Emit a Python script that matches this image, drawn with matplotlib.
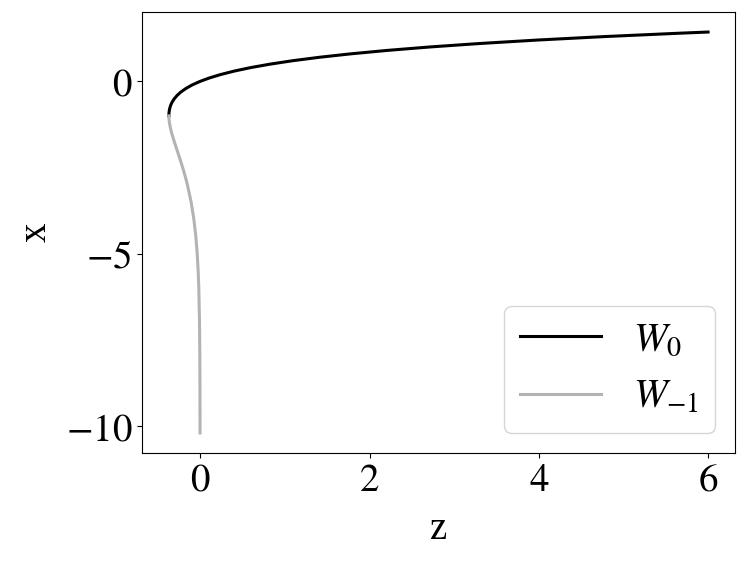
import matplotlib
matplotlib.use("Agg")
import matplotlib.pyplot as plt

# principal branch W0: x values and z = x*e^x
x_w0 = [-1.0, -0.975, -0.95, -0.9, -0.85, -0.8, -0.75, -0.7, -0.65, -0.6, -0.5, -0.4,
        -0.3, -0.2, -0.1, 0.0, 0.1, 0.2, 0.3, 0.4, 0.5, 0.6, 0.7, 0.8, 0.9, 1.0,
        1.1, 1.2, 1.3, 1.4, 1.432]
z_w0 = [-0.3679, -0.3678, -0.3674, -0.3659, -0.3633, -0.3595, -0.3543, -0.3476, -0.3393,
        -0.3293, -0.3033, -0.2681, -0.2222, -0.1637, -0.0905, 0.0, 0.1105, 0.2443,
        0.4050, 0.5967, 0.8244, 1.0933, 1.4096, 1.7804, 2.2136, 2.7183, 3.3046,
        3.9841, 4.7701, 5.6773, 5.9959]

# lower branch W_-1
x_wm1 = [-1.0, -1.05, -1.1, -1.2, -1.3, -1.4, -1.5, -1.75, -2.0, -2.25, -2.5, -2.75,
         -3.0, -3.5, -4.0, -4.5, -5.0, -5.5, -6.0, -7.0, -8.0, -9.0, -10.2]
z_wm1 = [-0.3679, -0.3674, -0.3662, -0.3614, -0.3543, -0.3452, -0.3347, -0.3041,
         -0.2707, -0.2372, -0.2052, -0.1758, -0.1494, -0.1057, -0.0733, -0.0500,
         -0.0337, -0.0225, -0.0149, -0.0064, -0.0027, -0.0011, -0.0004]

xticks = [0, 2, 4, 6]
yticks = [0, -5, -10]

plt.rcParams['font.family'] = ['Liberation Serif', 'DejaVu Serif']
plt.rcParams['mathtext.fontset'] = 'stix'

fig = plt.figure(figsize=(7.47, 5.63), dpi=100)
ax = fig.add_axes([0.190, 0.1954, 0.794, 0.7833])

ax.plot(z_w0, x_w0, color='black', lw=2.2, label=r'$W_0$')
ax.plot(z_wm1, x_wm1, color='#b3b3b3', lw=2.2, label=r'$W_{-1}$')

ax.set_xlabel('z', fontsize=28, labelpad=8)
ax.set_ylabel('x', fontsize=28, labelpad=8)
ax.set_xticks(xticks)
ax.set_xticklabels([r'$%d$' % t for t in xticks])
ax.set_yticks(yticks)
ax.set_yticklabels([r'$%d$' % t for t in yticks])
ax.tick_params(labelsize=28)
ax.legend(loc='lower right', fontsize=29, handlelength=2.0)

fig.savefig('out.png', dpi=100)
